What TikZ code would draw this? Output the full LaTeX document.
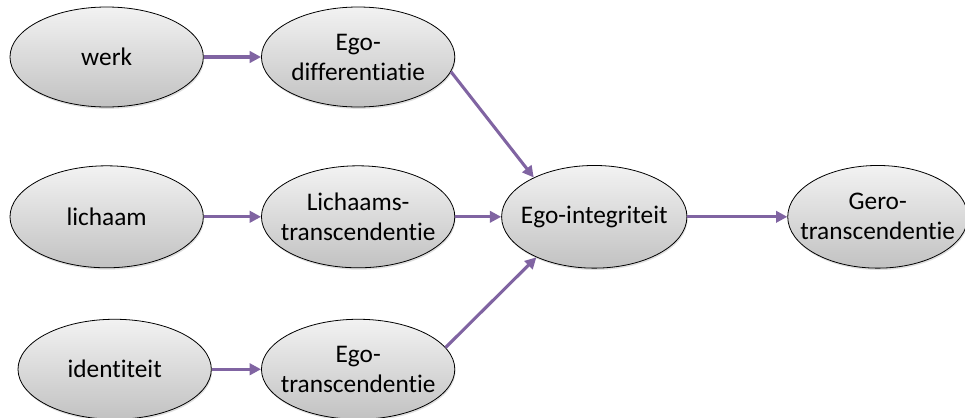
\documentclass[tikz,border=0pt]{standalone}
\usepackage{fontspec}
\setmainfont{Carlito}[Ligatures=NoCommon]
\usetikzlibrary{arrows.meta,positioning,shapes.geometric,shadows}
\definecolor{linkpurple}{HTML}{8064A2}
\tikzset{
  stageoval/.style={ellipse, draw=black, line width=0.6pt, top color=black!5, bottom color=black!24, align=center, inner xsep=-14pt, inner ysep=-6pt, minimum width=145pt, minimum height=75pt, font=\fontsize{19}{22.5}\selectfont, drop shadow={shadow xshift=0.6pt, shadow yshift=-1.4pt, opacity=0.25}},
  stagearrow/.style={-{Triangle[length=8.5pt, width=8.5pt]}, line width=2.3pt, draw=linkpurple}
}

\begin{document}
\begin{tikzpicture}
\useasboundingbox (0,0) rectangle (723.75pt,-313.5pt);
\node[stageoval] (werk) at (80pt,-42.75pt) {werk};
\node[stageoval, right=43pt of werk] (egodiff) {Ego-\\differentiatie};
\node[stageoval, minimum height=76.5pt, below=43.5pt of werk] (lichaam) {lichaam};
\node[stageoval, minimum height=76.5pt, right=43pt of lichaam] (lichaamstr) {Lichaams-\\transcendentie};
\node[stageoval, below=38pt of lichaam, xshift=6pt] (identiteit) {identiteit};
\node[stageoval, below=38pt of lichaamstr] (egotrans) {Ego-\\transcendentie};
\node[stageoval, minimum width=139pt, minimum height=77pt, right=34.5pt of lichaamstr] (egoint) {Ego-integriteit};
\node[stageoval, minimum width=135pt, minimum height=77pt, right=75pt of egoint] (gero) {Gero-\\transcendentie};
\draw[stagearrow] (werk) -- (egodiff);
\draw[stagearrow] (lichaam) -- (lichaamstr);
\draw[stagearrow] (identiteit) -- (egotrans);
\draw[stagearrow] (egodiff.-9) -- (egoint.147);
\draw[stagearrow] (lichaamstr) -- (egoint);
\draw[stagearrow] (egotrans.14) -- (egoint.215);
\draw[stagearrow] (egoint) -- (gero);
\end{tikzpicture}
\end{document}
